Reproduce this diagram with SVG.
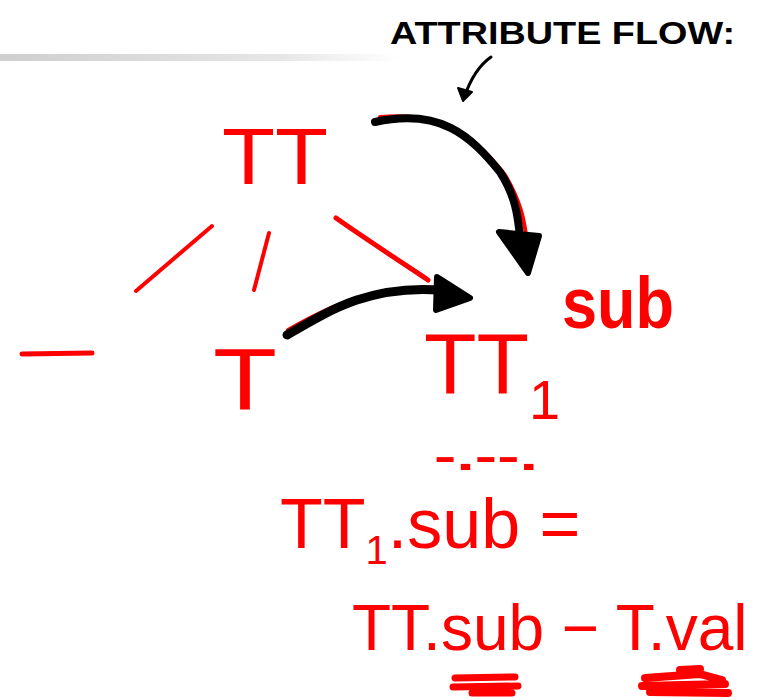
<svg xmlns="http://www.w3.org/2000/svg" width="768" height="700" viewBox="0 0 768 700">
<defs>
<linearGradient id="bar" x1="0" y1="0" x2="1" y2="0">
<stop offset="0" stop-color="#cfcfcf"/>
<stop offset="0.7" stop-color="#e6e6e6"/>
<stop offset="1" stop-color="#ffffff"/>
</linearGradient>
</defs>
<style>
.hw{font-family:"Liberation Sans","DejaVu Sans",sans-serif;fill:#ff0000;}
.title{font-family:"Liberation Sans","DejaVu Sans",sans-serif;fill:#000;font-weight:bold;}
.red{stroke:#ff0000;fill:none;stroke-linecap:round;stroke-linejoin:round;}
.blk{stroke:#000;fill:none;stroke-linecap:round;stroke-linejoin:round;}
.head{fill:#000;stroke:#000;stroke-linejoin:round;}
</style>
<rect width="768" height="700" fill="#fff"/>
<rect x="0" y="54" width="400" height="7" fill="url(#bar)"/>

<g id="title">
<text class="title" x="390" y="44" font-size="31" textLength="345" lengthAdjust="spacingAndGlyphs">ATTRIBUTE FLOW:</text>
<path class="blk" d="M491,57 C478,66 470,80 464,98" stroke-width="3"/>
<path class="head" d="M458,88 L463,101 L472,92 Z" stroke-width="2"/>
</g>

<g id="node-TT">
<text class="hw" x="222" y="184" font-size="80" textLength="106" lengthAdjust="spacingAndGlyphs">TT</text>
</g>

<g id="node-minus">
<path class="red" d="M22,354 L92,353" stroke-width="5"/>
</g>

<g id="node-T">
<text class="hw" x="213" y="409" font-size="88" textLength="64" lengthAdjust="spacingAndGlyphs">T</text>
</g>

<g id="node-TT1">
<text class="hw" x="424" y="393" font-size="86">TT<tspan font-size="56" dy="26">1</tspan></text>
<text class="hw" x="434" y="470" font-size="40" font-weight="bold" textLength="104" lengthAdjust="spacingAndGlyphs">-.--.</text>
</g>

<g id="node-sub">
<text class="hw" x="562" y="328" font-size="72" font-weight="bold" textLength="112" lengthAdjust="spacingAndGlyphs">sub</text>
</g>

<g id="rule">
<text class="hw" x="280" y="548" font-size="70">TT<tspan font-size="40" dy="16">1</tspan><tspan dy="-16">.sub =</tspan></text>
<text class="hw" x="352" y="650" font-size="64">TT.sub − T.val</text>
<path class="red" d="M455,678 L515,677 M453,687 L518,686 M472,693 L512,693" stroke-width="7"/>
<path class="red" d="M645,678 L700,674 L722,680 M642,686 L725,684 M650,692 L728,693 M680,670 L700,669" stroke-width="8"/>
</g>

<g id="connectors">
<path class="red" d="M136,291 L212,226" stroke-width="4"/>
<path class="red" d="M269,233 L254,290" stroke-width="4"/>
<path class="red" d="M336,218 C360,235 395,258 428,280" stroke-width="5"/>
<path class="red" d="M288,330 C340,300 380,285 445,288" stroke-width="4"/>
<path class="red" d="M380,117 C440,112 470,130 505,175 C520,200 525,220 527,245" stroke-width="4"/>
<path class="blk" d="M287,335 C330,310 370,285 440,290" stroke-width="9"/>
<path class="head" d="M437,277 L470,298 L436,310 Z" stroke-width="6"/>
<path class="blk" d="M375,122 C440,108 470,135 500,172 C515,195 518,215 520,238" stroke-width="8"/>
<path class="head" d="M499,232 L539,236 L528,273 Z" stroke-width="6"/>
</g>
</svg>
